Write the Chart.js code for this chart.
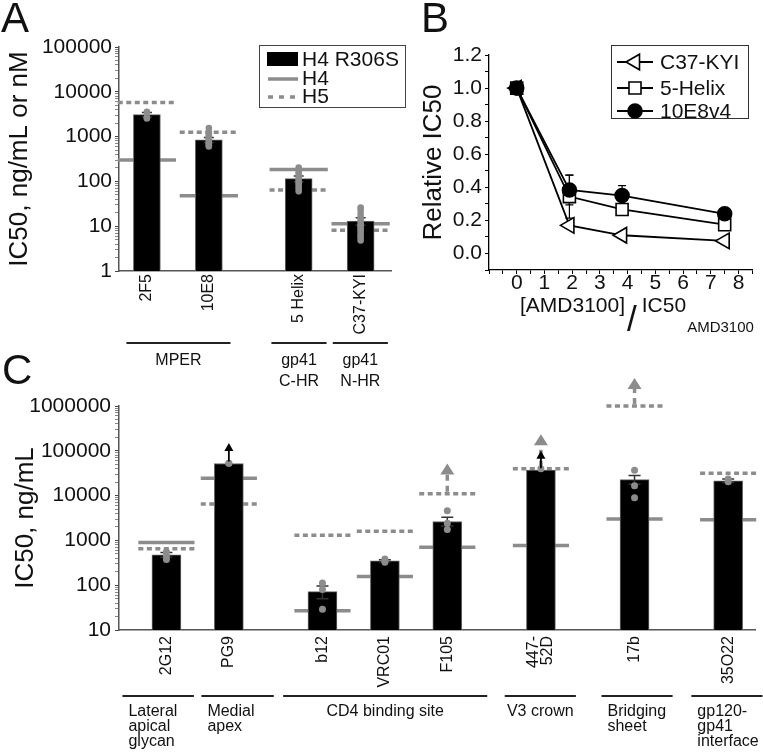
<!DOCTYPE html>
<html>
<head>
<meta charset="utf-8">
<script src="https://cdn.jsdelivr.net/npm/chart.js@4/dist/chart.umd.min.js"></script>
<style>
  body { margin: 0; background: #fff; width: 763px; height: 753px; position: relative; overflow: hidden;
         font-family: "Liberation Sans", Arial, sans-serif; }
  canvas { position: absolute; }
  .panel { position: absolute; font-size: 42px; line-height: 42px; color: #111; }
</style>
</head>
<body>
<canvas id="chartA" width="420" height="400" style="left:0;top:0"></canvas>
<canvas id="chartB" width="343" height="340" style="left:420px;top:0"></canvas>
<canvas id="chartC" width="763" height="423" style="left:0;top:330px"></canvas>
<div class="panel" style="left:1px;top:-3px">A</div>
<div class="panel" style="left:421px;top:-3px">B</div>
<div class="panel" style="left:2px;top:349px">C</div>
<script>
// ---- panel A: gp41 targeting inhibitors
const catsA = ['2F5', '10E8', '5 Helix', 'C37-KYI'];
const xPosA = [0, 1, 2.45, 3.45];
const r306sA = [3100, 850, 115, 13];
const h4A = [300, 48, 185, 11.3];
const h5A = [5800, 1250, 64, 8.1];
const errHiA = [3450, 960, 132, 15.5];
const errLoA = [2750, 740, 98, 10.5];
const pointsA = [
  [3600, 2700, 2550],
  [1550, 1250, 1100, 1000, 930, 870, 800, 740, 690, 640, 600],
  [205, 165, 145, 125, 112, 100, 90, 80, 70, 60],
  [26, 23, 19, 16, 14, 12.5, 11, 10, 9, 8, 7, 6.2, 5.5, 4.8]
];
const yTicksA = [1, 10, 100, 1000, 10000, 100000];
const groupNamesA = ['MPER', 'gp41\nC-HR', 'gp41\nN-HR'];
const groupFromA = [-0.33, 2.01, 3.0];
const groupToA = [1.35, 2.9, 3.89];

// ---- panel B: relative IC50 vs AMD3100
const xB = [0, 1.9, 3.8, 7.5];
const c37KYI = [1.0, 0.17, 0.11, 0.076];
const fiveHelix = [1.0, 0.344, 0.266, 0.174];
const e10E8v4 = [1.0, 0.384, 0.35, 0.24];
const errC37 = [0, 0.01, 0.01, 0.01];
const errHelix = [0, 0.13, 0.03, 0.03];
const err10E8 = [0, 0.09, 0.06, 0.02];
const yTicksB = [0, 0.2, 0.4, 0.6, 0.8, 1.0, 1.2];
const xTicksB = [0, 1, 2, 3, 4, 5, 6, 7, 8];

// ---- panel C: gp120 antibodies
const catsC = ['2G12', 'PG9', 'b12', 'VRC01', 'F105', ['447-', '52D'], '17b', '35O22'];
const xPosC = [0, 1, 2.5, 3.5, 4.5, 6, 7.5, 9];
const r306sC = [474, 52000, 72, 350, 2640, 37000, 22700, 21300];
const h4C = [900, 24500, 27, 156, 700, 770, 3000, 2900];
const h5C = [650, 6500, 1300, 1600, 11000, 40000, 1000000, 31500];
const errHiC = [540, null, 96, 370, 3300, null, 28000, 23500];
const errLoC = [420, null, 50, 330, 2100, null, 18000, 19500];
const pointsC = [[560, 450, 375], [53000, 53000], [112, 80, 29], [385, 355, 325],
                 [4600, 2400, 1750], [40000], [37000, 16500, 9000], [23500, 20500]];
const yTicksC = [10, 100, 1000, 10000, 100000, 1000000];
// "greater than" arrows: category index, start value, tip value
const arrowCatC = [5, 4, 6, 1, 5];
const arrowFromC = [40000, 11000, 1000000, 52000, 37000];
const arrowToC = [235000, 52000, 4200000, 150000, 100000];
const arrowGrayC = [true, true, true, false, false];
const groupNamesC = ['Lateral\napical\nglycan', 'Medial\napex', 'CD4 binding site', 'V3 crown', 'Bridging\nsheet', 'gp120-\ngp41\ninterface'];
const groupFromC = [-0.705, 0.56, 1.87, 5.42, 6.97, 8.41];
const groupToC = [0.44, 1.72, 5.14, 6.56, 8.11, 9.55];

const FONT = '"Liberation Sans", Arial, sans-serif';
const GRAY = '#8c8c8c';
Chart.defaults.font.family = FONT;
Chart.defaults.color = '#111';

function near(v, list) {
  return list.some(t => Math.abs(v - t) <= Math.abs(t) * 1e-6 + 1e-9);
}
// horizontal bars of width 2*half at each category, broken by nulls
function segments(xs, ys, half) {
  const out = [];
  xs.forEach((x, i) => {
    out.push({ x: x - half, y: ys[i] }, { x: x + half, y: ys[i] }, { x: x + half, y: null });
  });
  return out;
}
function logTicks(majors) {
  return s => {
    const t = [];
    for (let i = 0; i < majors.length - 1; i++)
      for (let k = 1; k < 10; k++) t.push({ value: majors[i] * k, major: k === 1 });
    t.push({ value: majors[majors.length - 1], major: true });
    s.ticks = t;
  };
}
// vertical category names, reading bottom-to-top, ending just under the axis
function catLabelPlugin(cats, xs, gap) {
  return {
    id: 'catLabels',
    afterDraw(chart) {
      const ctx = chart.ctx, x = chart.scales.x, top = chart.chartArea.bottom + gap;
      ctx.save();
      ctx.font = '16px ' + FONT;
      ctx.fillStyle = '#111';
      ctx.textAlign = 'right';
      ctx.textBaseline = 'middle';
      cats.forEach((c, i) => {
        const lines = [].concat(c);
        ctx.save();
        ctx.translate(x.getPixelForValue(xs[i]), top);
        ctx.rotate(-Math.PI / 2);
        lines.forEach((t, j) => ctx.fillText(t, 0, (j - (lines.length - 1) / 2) * 14));
        ctx.restore();
      });
      ctx.restore();
    }
  };
}
function groupPlugin(names, from, to, lineY, textY, lineH, multiLeft) {
  return {
    id: 'groups',
    afterDraw(chart) {
      const ctx = chart.ctx, x = chart.scales.x;
      ctx.save();
      ctx.strokeStyle = '#222';
      ctx.lineWidth = 2;
      ctx.font = '16px ' + FONT;
      ctx.fillStyle = '#111';
      ctx.textBaseline = 'middle';
      names.forEach((name, i) => {
        const x0 = x.getPixelForValue(from[i]), x1 = x.getPixelForValue(to[i]);
        ctx.beginPath(); ctx.moveTo(x0, lineY); ctx.lineTo(x1, lineY); ctx.stroke();
        const lines = name.split('\n');
        const left = multiLeft && lines.length > 1;
        ctx.textAlign = left ? 'left' : 'center';
        lines.forEach((t, j) => ctx.fillText(t, left ? x0 + 6 : (x0 + x1) / 2, textY + j * lineH));
      });
      ctx.restore();
    }
  };
}
function errorPlugin(xs, hi, lo, capHalf, beforeIndex) {
  return {
    id: 'errs',
    beforeDatasetDraw(chart, args) {
      if (args.index !== beforeIndex) return;
      const { ctx, scales: { x, y } } = chart;
      ctx.save();
      ctx.strokeStyle = '#333';
      ctx.lineWidth = 1.5;
      xs.forEach((xv, i) => {
        if (hi[i] == null) return;
        const px = x.getPixelForValue(xv), ph = y.getPixelForValue(hi[i]), pl = y.getPixelForValue(lo[i]);
        ctx.beginPath();
        ctx.moveTo(px, pl); ctx.lineTo(px, ph);
        ctx.moveTo(px - capHalf, ph); ctx.lineTo(px + capHalf, ph);
        ctx.moveTo(px - capHalf, pl); ctx.lineTo(px + capHalf, pl);
        ctx.stroke();
      });
      ctx.restore();
    }
  };
}

// ================= A =================
new Chart(document.getElementById('chartA'), {
  type: 'bar',
  data: {
    datasets: [
      { type: 'scatter', label: 'replicates', order: 0,
        data: pointsA.flatMap((vals, i) => vals.map(v => ({ x: xPosA[i], y: v }))),
        pointRadius: 3.3, pointBackgroundColor: GRAY, pointBorderWidth: 0 },
      { type: 'bar', label: 'H4 R306S', order: 1,
        data: xPosA.map((x, i) => ({ x, y: r306sA[i] })),
        backgroundColor: '#000', borderColor: '#666', borderWidth: 1, barThickness: 27 },
      { type: 'line', label: 'H4', order: 2, data: segments(xPosA, h4A, 0.47),
        borderColor: GRAY, borderWidth: 3.5, pointRadius: 0, spanGaps: false, clip: false },
      { type: 'line', label: 'H5', order: 2, data: segments(xPosA, h5A, 0.47),
        borderColor: GRAY, borderWidth: 3.5, borderDash: [5, 3.5], pointRadius: 0, spanGaps: false, clip: false }
    ]
  },
  options: {
    responsive: false, animation: false, events: [],
    layout: { padding: { top: 47, right: 29, left: 0, bottom: 0 } },
    plugins: { legend: { display: false }, tooltip: { enabled: false } },
    scales: {
      x: {
        type: 'linear', min: -0.45, max: 3.94, offset: false,
        grid: { display: false, offset: false },
        border: { color: '#555', width: 1.5 },
        ticks: { display: false },
        afterFit: s => { s.height = 129; }
      },
      y: {
        type: 'logarithmic', min: 1, max: 100000,
        border: { color: '#555', width: 1.5 },
        grid: { drawOnChartArea: false, tickLength: 4,
                tickColor: c => (c.tick && c.tick.major ? '#444' : '#888') },
        afterBuildTicks: logTicks(yTicksA),
        ticks: { autoSkip: false, padding: 3, font: { size: 21 },
                 callback: v => (near(v, yTicksA) ? String(Math.round(v)) : '') },
        title: { display: true, text: 'IC50, ng/mL or nM', font: { size: 26 }, padding: { top: 4, bottom: 0 } },
        afterFit: s => { s.width = 119; }
      }
    }
  },
  plugins: [
    catLabelPlugin(catsA, xPosA, 3),
    groupPlugin(groupNamesA, groupFromA, groupToA, 343, 361, 21, false),
    errorPlugin(xPosA, errHiA, errLoA, 5, 0),
    {
      id: 'legendA',
      afterDraw(chart) {
        const ctx = chart.ctx, ds = chart.data.datasets;
        ctx.save();
        ctx.strokeStyle = '#444'; ctx.lineWidth = 1;
        ctx.strokeRect(259.5, 45.5, 146, 62);
        ctx.fillStyle = '#000'; ctx.fillRect(267, 52, 31, 14);
        ctx.strokeStyle = GRAY; ctx.lineWidth = 3.5;
        ctx.beginPath(); ctx.moveTo(268, 79); ctx.lineTo(298, 79); ctx.stroke();
        ctx.setLineDash([5, 6]);
        ctx.beginPath(); ctx.moveTo(268, 97); ctx.lineTo(300, 97); ctx.stroke();
        ctx.setLineDash([]);
        ctx.fillStyle = '#111'; ctx.font = '21px ' + FONT;
        ctx.textBaseline = 'middle'; ctx.textAlign = 'left';
        ctx.fillText(ds[1].label, 302, 60);
        ctx.fillText(ds[2].label, 302, 79);
        ctx.fillText(ds[3].label, 302, 97);
        ctx.restore();
      }
    }
  ]
});

// ================= B =================
const markerB = {
  'C37-KYI': { pointStyle: 'triangle', rotation: -90, radius: 9, fill: '#fff' },
  '5-Helix': { pointStyle: 'rect', rotation: 0, radius: 8.5, fill: '#fff' },
  '10E8v4': { pointStyle: 'circle', rotation: 0, radius: 7, fill: '#000' }
};
function seriesB(label, ys, order) {
  const m = markerB[label];
  return {
    label, order, data: xB.map((x, i) => ({ x, y: ys[i] })),
    borderColor: '#000', borderWidth: 1.8,
    pointStyle: m.pointStyle, pointRotation: m.rotation, pointRadius: m.radius,
    pointBackgroundColor: m.fill, pointBorderColor: '#000', pointBorderWidth: 1.6
  };
}
const errsB = [errC37, errHelix, err10E8];
new Chart(document.getElementById('chartB'), {
  type: 'line',
  data: {
    datasets: [
      seriesB('C37-KYI', c37KYI, 2),
      seriesB('5-Helix', fiveHelix, 1),
      seriesB('10E8v4', e10E8v4, 0)
    ]
  },
  options: {
    responsive: false, animation: false, events: [],
    layout: { padding: { top: 55, right: 6, left: 0, bottom: 0 } },
    plugins: { legend: { display: false }, tooltip: { enabled: false } },
    scales: {
      x: {
        type: 'linear', min: -1, max: 8.5,
        grid: { drawOnChartArea: false, tickLength: 4, tickColor: '#000' },
        border: { color: '#000', width: 1.3 },
        afterBuildTicks: s => {
          const t = [];
          for (let v = -1; v <= 8.5 + 1e-9; v += 0.5) t.push({ value: v });
          s.ticks = t;
        },
        ticks: { autoSkip: false, maxRotation: 0, padding: -3, font: { size: 21 },
                 callback: v => (near(v, xTicksB) ? String(Math.round(v)) : '') },
        afterFit: s => { s.height = 70; }
      },
      y: {
        type: 'linear', min: -0.1, max: 1.2,
        grid: { drawOnChartArea: false, tickLength: 4, tickColor: '#000' },
        border: { color: '#000', width: 1.3 },
        afterBuildTicks: s => {
          const t = [];
          for (let k = -1; k <= 12; k++) t.push({ value: k / 10 });
          s.ticks = t;
        },
        ticks: { autoSkip: false, padding: 3, font: { size: 21 },
                 callback: v => (near(v, yTicksB) ? v.toFixed(1) : '') },
        title: { display: true, text: 'Relative IC50', font: { size: 26 }, padding: { top: -2, bottom: 0 } },
        afterFit: s => { s.width = 69; }
      }
    }
  },
  plugins: [
    {
      id: 'errB',
      beforeDatasetsDraw(chart) {
        const { ctx, scales: { x, y } } = chart;
        ctx.save(); ctx.strokeStyle = '#000'; ctx.lineWidth = 1.2;
        chart.data.datasets.forEach((ds, d) => {
          ds.data.forEach((p, i) => {
            const e = errsB[d][i];
            if (!e) return;
            const px = x.getPixelForValue(p.x), ph = y.getPixelForValue(p.y + e), pl = y.getPixelForValue(p.y - e);
            ctx.beginPath();
            ctx.moveTo(px, pl); ctx.lineTo(px, ph);
            ctx.moveTo(px - 4, ph); ctx.lineTo(px + 4, ph);
            ctx.moveTo(px - 4, pl); ctx.lineTo(px + 4, pl);
            ctx.stroke();
          });
        });
        ctx.restore();
      }
    },
    {
      id: 'legendB',
      afterDraw(chart) {
        const ctx = chart.ctx, ds = chart.data.datasets, rowY = [62, 88, 111];
        ctx.save();
        ctx.strokeStyle = '#333'; ctx.lineWidth = 1;
        ctx.strokeRect(191.5, 45.5, 137, 73);
        ds.forEach((d, i) => {
          const m = markerB[d.label];
          ctx.strokeStyle = '#000'; ctx.lineWidth = 1.8;
          ctx.beginPath(); ctx.moveTo(197, rowY[i]); ctx.lineTo(233, rowY[i]); ctx.stroke();
          ctx.fillStyle = m.fill; ctx.lineWidth = 1.6;
          Chart.helpers.drawPoint(ctx, { pointStyle: m.pointStyle, rotation: m.rotation, radius: m.radius, borderWidth: 1.6 }, 215, rowY[i]);
          ctx.fillStyle = '#111'; ctx.font = '21px ' + FONT;
          ctx.textAlign = 'left'; ctx.textBaseline = 'middle';
          ctx.fillText(d.label, 240, rowY[i] + 1);
        });
        ctx.restore();
      }
    },
    {
      id: 'xTitleB',
      afterDraw(chart) {
        const ctx = chart.ctx;
        ctx.save();
        ctx.fillStyle = '#111'; ctx.textAlign = 'left'; ctx.textBaseline = 'alphabetic';
        let x0 = 100;
        ctx.font = '21px ' + FONT;
        ctx.fillText('[AMD3100]', x0, 312);
        x0 += ctx.measureText('[AMD3100]').width + 2;
        ctx.font = '35px ' + FONT;
        ctx.fillText('/', x0, 331);
        x0 += ctx.measureText('/').width + 5;
        ctx.font = '21px ' + FONT;
        ctx.fillText('IC50', x0, 312);
        x0 += ctx.measureText('IC50').width + 1;
        ctx.font = '15px ' + FONT;
        ctx.fillText('AMD3100', x0, 332);
        ctx.restore();
      }
    }
  ]
});

// ================= C =================
new Chart(document.getElementById('chartC'), {
  type: 'bar',
  data: {
    datasets: [
      { type: 'scatter', label: 'replicates', order: 0,
        data: pointsC.flatMap((vals, i) => vals.map(v => ({ x: xPosC[i], y: v }))),
        pointRadius: 3.5, pointBackgroundColor: GRAY, pointBorderWidth: 0 },
      { type: 'bar', label: 'H4 R306S', order: 1,
        data: xPosC.map((x, i) => ({ x, y: r306sC[i] })),
        backgroundColor: '#000', borderColor: '#666', borderWidth: 1, barThickness: 29 },
      { type: 'line', label: 'H4', order: 2, data: segments(xPosC, h4C, 0.45),
        borderColor: GRAY, borderWidth: 3.5, pointRadius: 0, spanGaps: false, clip: false },
      { type: 'line', label: 'H5', order: 2, data: segments(xPosC, h5C, 0.45),
        borderColor: GRAY, borderWidth: 3.5, borderDash: [5, 3.5], pointRadius: 0, spanGaps: false, clip: false }
    ]
  },
  options: {
    responsive: false, animation: false, events: [],
    layout: { padding: { top: 76, right: 8, left: 0, bottom: 0 } },
    plugins: { legend: { display: false }, tooltip: { enabled: false } },
    scales: {
      x: {
        type: 'linear', min: -0.76, max: 9.43, offset: false,
        grid: { display: false, offset: false },
        border: { color: '#555', width: 1.5 },
        ticks: { display: false },
        afterFit: s => { s.height = 123; }
      },
      y: {
        type: 'logarithmic', min: 10, max: 1000000,
        border: { color: '#555', width: 1.5 },
        grid: { drawOnChartArea: false, tickLength: 4,
                tickColor: c => (c.tick && c.tick.major ? '#444' : '#888') },
        afterBuildTicks: logTicks(yTicksC),
        ticks: { autoSkip: false, padding: 4, font: { size: 21 },
                 callback: v => (near(v, yTicksC) ? String(Math.round(v)) : '') },
        title: { display: true, text: 'IC50, ng/mL', font: { size: 26 }, padding: { top: 10, bottom: 0 } },
        afterFit: s => { s.width = 119; }
      }
    }
  },
  plugins: [
    catLabelPlugin(catsC, xPosC, 6),
    groupPlugin(groupNamesC, groupFromC, groupToC, 366, 382, 15, true),
    errorPlugin(xPosC, errHiC, errLoC, 6, 0),
    {
      id: 'arrowsC',
      afterDatasetsDraw(chart) {
        const { ctx, scales: { x, y } } = chart;
        ctx.save();
        arrowCatC.forEach((c, i) => {
          const px = x.getPixelForValue(xPosC[c]);
          const p0 = y.getPixelForValue(arrowFromC[i]), p1 = y.getPixelForValue(arrowToC[i]);
          const gray = arrowGrayC[i];
          const hw = gray ? 7 : 4.5, hh = gray ? 11 : 8;
          ctx.strokeStyle = ctx.fillStyle = gray ? GRAY : '#000';
          ctx.lineWidth = gray ? 3.5 : 1.8;
          ctx.setLineDash(gray ? [6, 5] : []);
          ctx.beginPath(); ctx.moveTo(px, p0 - 2); ctx.lineTo(px, p1 + hh - 1); ctx.stroke();
          ctx.setLineDash([]);
          ctx.beginPath();
          ctx.moveTo(px, p1); ctx.lineTo(px - hw, p1 + hh); ctx.lineTo(px + hw, p1 + hh);
          ctx.closePath(); ctx.fill();
        });
        ctx.restore();
      }
    }
  ]
});
</script>
</body>
</html>
